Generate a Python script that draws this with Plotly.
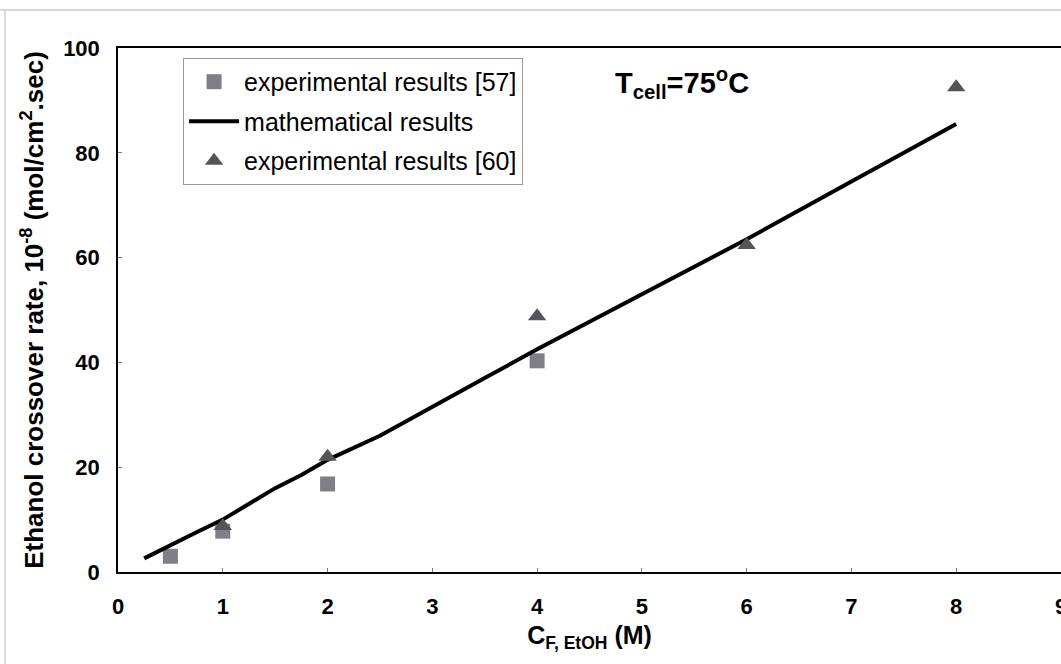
import plotly.graph_objects as go

# experimental results [57]
exp57_x = [0.5, 1, 2, 4]
exp57_y = [3.0, 7.8, 16.8, 40.3]

# experimental results [60]
exp60_x = [1, 2, 4, 6, 8]
exp60_y = [8.8, 22.0, 48.8, 62.4, 92.5]

# mathematical results
model_x = [0.25, 0.5, 0.75, 1, 1.25, 1.5, 1.75, 2, 2.5, 3, 3.5, 4, 5, 6, 7, 8]
model_y = [2.6, 5.2, 7.6, 10.0, 13.0, 16.0, 18.5, 21.4, 26.0, 31.4, 37.0, 42.5,
           53.0, 63.5, 74.5, 85.5]

FONT = "Liberation Sans, Arial, sans-serif"

fig = go.Figure()
fig.add_trace(go.Scatter(
    x=exp57_x, y=exp57_y, mode="markers", name="experimental results [57]",
    legendgroup="a",
    marker=dict(symbol="square", size=15, color="#7f7f88")))
fig.add_trace(go.Scatter(
    x=model_x, y=model_y, mode="lines", name="mathematical results",
    legendgroup="b",
    line=dict(color="black", width=4)))
fig.add_trace(go.Scatter(
    x=exp60_x, y=exp60_y, mode="markers", name="experimental results [60]",
    legendgroup="c",
    marker=dict(symbol="triangle-up", size=16, color="#555559")))

fig.update_xaxes(range=[0, 9], dtick=1, showgrid=False, zeroline=False,
                 showline=True, linecolor="black", linewidth=1.5, mirror=True,
                 ticks="inside", ticklen=4, tickcolor="#777",
                 ticklabelstandoff=14, ticklabeloverflow="allow", automargin=False,
                 tickfont=dict(family=FONT, size=22, color="black", weight="bold"),
                 title=dict(text="C<sub>F, EtOH</sub> (M)", standoff=8,
                            font=dict(family=FONT, size=25, color="black", weight="bold")))
fig.update_yaxes(range=[0, 100], dtick=20, showgrid=False, zeroline=False,
                 showline=True, linecolor="black", linewidth=1.5, mirror=True,
                 ticks="inside", ticklen=4, tickcolor="#777",
                 ticklabelstandoff=12, automargin=False,
                 tickfont=dict(family=FONT, size=22, color="black", weight="bold"),
                 title=dict(text="Ethanol crossover rate, 10<sup>-8</sup> (mol/cm<sup>2</sup>.sec)",
                            font=dict(family=FONT, size=26, color="black", weight="bold"),
                            standoff=12))

fig.add_annotation(x=0.525, y=0.975, xref="paper", yref="paper", showarrow=False,
                   text="T<sub>cell</sub>=75<sup>o</sup>C", xanchor="left", yanchor="top",
                   font=dict(family=FONT, size=29, color="black", weight="bold"))

# faint scan border
fig.add_shape(type="line", xref="paper", yref="paper", x0=-0.125, x1=1.0,
              y0=1.0725, y1=1.0725, line=dict(color="#d8d8d8", width=2))
fig.add_shape(type="line", xref="paper", yref="paper", x0=-0.1198, x1=-0.1198,
              y0=-0.18, y1=1.0725, line=dict(color="#dddddd", width=2))

fig.update_layout(
    width=1061, height=664,
    margin=dict(l=118, r=0, t=48, b=92),
    paper_bgcolor="white", plot_bgcolor="white",
    legend=dict(x=0.069, y=0.981, xanchor="left", yanchor="top",
                bgcolor="white", bordercolor="#999", borderwidth=1,
                font=dict(family=FONT, size=25, color="black"),
                itemwidth=50, tracegroupgap=4),
)

fig.write_html("out.html", config={"displayModeBar": False},
               post_script="document.body.style.margin='0';document.body.style.overflow='hidden';")
